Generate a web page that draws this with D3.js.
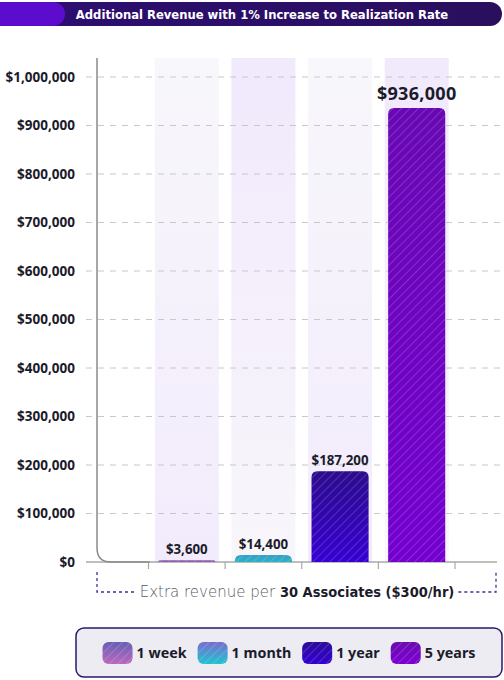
<!DOCTYPE html>
<html>
<head>
<meta charset="utf-8">
<script src="https://cdn.jsdelivr.net/npm/d3@7"></script>
<style>
  html, body { margin: 0; padding: 0; background: #fff; }
  svg { display: block; }
  .dc { font-family: 'DejaVu Sans Condensed', 'DejaVu Sans', sans-serif; font-weight: bold; }
  .ns { font-family: 'Noto Sans', sans-serif; font-weight: bold; }
</style>
</head>
<body>
<svg id="chart"></svg>
<script>
// datos del grafico
const periods = ["1 week", "1 month", "1 year", "5 years"];
const revenue = [3600, 14400, 187200, 936000];
const valueLabels = ["$3,600", "$14,400", "$187,200", "$936,000"];
const yTicks = [0, 100000, 200000, 300000, 400000, 500000, 600000, 700000, 800000, 900000, 1000000];
const titleText = "Additional Revenue with 1% Increase to Realization Rate";
const captionLight = "Extra revenue per ";
const captionBold = "30 Associates ($300/hr)";

const W = 504, H = 680;
const svg = d3.select("#chart").attr("width", W).attr("height", H);
const defs = svg.append("defs");

// colores de barras (arriba, abajo)
const barColors = [
    ["#7d5bb0", "#9a5aa8"],
    ["#3a9cc8", "#26b4c4"],
    ["#2c0c8c", "#3600d2"],
    ["#6808b4", "#7400d0"]
];
const swatchColors = [
    ["#6660b4", "#bc68c0"],
    ["#7a6cd0", "#1ec4d0"],
    ["#2c0c9c", "#3200d0"],
    ["#6a0cb0", "#7c00d4"]
];

function addGradient(id, c0, c1) {
    const g = defs.append("linearGradient").attr("id", id)
        .attr("x1", 0).attr("y1", 0).attr("x2", 0).attr("y2", 1);
    g.append("stop").attr("offset", "0%").attr("stop-color", c0);
    g.append("stop").attr("offset", "100%").attr("stop-color", c1);
}
barColors.forEach((c, i) => addGradient("bar-grad-" + i, c[0], c[1]));
swatchColors.forEach((c, i) => addGradient("sw-grad-" + i, c[0], c[1]));
addGradient("band-a", "#f8f7fb", "#f2ebfc");
addGradient("band-b", "#f1e9fc", "#f8f6fb");

const stripes = defs.append("pattern").attr("id", "stripes")
    .attr("patternUnits", "userSpaceOnUse")
    .attr("width", 6).attr("height", 6)
    .attr("patternTransform", "rotate(45)");
stripes.append("line")
    .attr("x1", 0).attr("y1", 0).attr("x2", 0).attr("y2", 6)
    .attr("stroke", "#ffffff").attr("stroke-opacity", 0.28).attr("stroke-width", 1.2);

// barra del titulo
const tg = defs.append("linearGradient").attr("id", "title-grad");
tg.append("stop").attr("offset", "0%").attr("stop-color", "#2c0e72");
tg.append("stop").attr("offset", "100%").attr("stop-color", "#2a0f5e");
svg.append("rect")
    .attr("x", -14).attr("y", 2).attr("width", 516).attr("height", 24)
    .attr("rx", 12).attr("fill", "url(#title-grad)");
svg.append("rect")
    .attr("x", -14).attr("y", 2).attr("width", 79).attr("height", 24)
    .attr("rx", 12).attr("fill", "#5c0ccc");
svg.append("text")
    .attr("class", "dc")
    .attr("x", 262).attr("y", 14.5).attr("dy", "0.35em")
    .attr("text-anchor", "middle")
    .attr("fill", "#ffffff")
    .style("font-size", "12.9px")
    .text(titleText);

// escalas
const x = d3.scaleBand().domain(periods).range([148.5, 455]).padding(0);
const y = d3.scaleLinear().domain([0, 1000000]).range([562, 77]);
const barW = x.bandwidth() * 0.745;
const bandW = x.bandwidth() * 0.835;

// fondos de columnas
svg.append("g").selectAll("rect")
    .data(periods)
    .join("rect")
    .attr("x", d => x(d) + (x.bandwidth() - bandW) / 2)
    .attr("y", 58)
    .attr("width", bandW)
    .attr("height", y(0) - 58)
    .attr("fill", (d, i) => i % 2 === 0 ? "url(#band-a)" : "url(#band-b)");

// lineas de cuadricula
svg.append("g").selectAll("line")
    .data(yTicks.filter(d => d > 0))
    .join("line")
    .attr("x1", 86).attr("x2", W)
    .attr("y1", d => y(d)).attr("y2", d => y(d))
    .attr("stroke", "#c8c8c8")
    .attr("stroke-width", 1)
    .attr("stroke-dasharray", "6,6");

// etiquetas del eje y
const yAxis = d3.axisLeft(y)
    .tickValues(yTicks)
    .tickFormat(d => "$" + d3.format(",")(d))
    .tickSize(0)
    .tickPadding(0);
const gy = svg.append("g").attr("transform", "translate(75,0)").call(yAxis);
gy.select(".domain").remove();
gy.attr("font-family", null).attr("font-size", null);
gy.selectAll("text")
    .attr("class", "ns")
    .attr("fill", "#1b1b2b")
    .style("font-size", "13.5px");

// eje con esquina redondeada
svg.append("line")
    .attr("x1", 86).attr("x2", 497)
    .attr("y1", y(0)).attr("y2", y(0))
    .attr("stroke", "#a8a8a8").attr("stroke-width", 1.5);
svg.append("path")
    .attr("d", `M97,58 V${y(0) - 14} Q97,${y(0)} 111,${y(0)} H150`)
    .attr("fill", "none")
    .attr("stroke", "#8a8a8a").attr("stroke-width", 1.5);

// marcas del eje x
const tickXs = periods.map(d => x(d)).concat([x.range()[1]]);
svg.append("g").selectAll("line")
    .data(tickXs)
    .join("line")
    .attr("x1", d => d).attr("x2", d => d)
    .attr("y1", y(0)).attr("y2", y(0) + 7)
    .attr("stroke", "#a8a8a8").attr("stroke-width", 1.2);

// barras
function topRounded(x0, y0, w, h, r) {
    r = Math.min(r, h, w / 2);
    return `M${x0},${y0 + h} V${y0 + r} Q${x0},${y0} ${x0 + r},${y0} H${x0 + w - r} Q${x0 + w},${y0} ${x0 + w},${y0 + r} V${y0 + h} Z`;
}
const bars = svg.append("g").selectAll("g")
    .data(periods)
    .join("g");
bars.append("path")
    .attr("d", (d, i) => topRounded(x(d) + (x.bandwidth() - barW) / 2, y(revenue[i]), barW, y(0) - y(revenue[i]), 6))
    .attr("fill", (d, i) => `url(#bar-grad-${i})`);
bars.append("path")
    .attr("d", (d, i) => topRounded(x(d) + (x.bandwidth() - barW) / 2, y(revenue[i]), barW, y(0) - y(revenue[i]), 6))
    .attr("fill", "url(#stripes)");

// etiquetas de valores
bars.append("text")
    .attr("class", "ns")
    .attr("x", d => x(d) + x.bandwidth() / 2)
    .attr("y", (d, i) => y(revenue[i]) - (i === 3 ? 8 : 6))
    .attr("text-anchor", "middle")
    .attr("fill", "#1b1b2b")
    .style("font-size", (d, i) => i === 3 ? "18px" : "13.3px")
    .style("letter-spacing", (d, i) => i === 3 ? "0.3px" : "0px")
    .text((d, i) => valueLabels[i]);

// leyenda inferior del eje x
const cap = svg.append("text")
    .attr("x", 297).attr("y", 591).attr("dy", "0.35em")
    .attr("text-anchor", "middle");
cap.append("tspan")
    .attr("fill", "#5a5a66")
    .style("font-family", "'DejaVu Sans', sans-serif")
    .style("font-weight", "200")
    .style("font-size", "15px")
    .text(captionLight);
cap.append("tspan")
    .attr("class", "dc")
    .attr("fill", "#1b1b2b")
    .style("font-size", "14.5px")
    .text(captionBold);
const cb = cap.node().getBBox();
svg.append("path")
    .attr("d", `M97,572 V592 H${cb.x - 4}`)
    .attr("fill", "none").attr("stroke", "#4a2a9a")
    .attr("stroke-width", 1.3).attr("stroke-dasharray", "3,3");
svg.append("path")
    .attr("d", `M${cb.x + cb.width + 4},592 H496 V572`)
    .attr("fill", "none").attr("stroke", "#4a2a9a")
    .attr("stroke-width", 1.3).attr("stroke-dasharray", "3,3");

// leyenda
svg.append("rect")
    .attr("x", 76).attr("y", 628).attr("width", 426).attr("height", 49)
    .attr("rx", 8)
    .attr("fill", "#ececf2")
    .attr("stroke", "#2e1768").attr("stroke-width", 1.5);

const legend = svg.append("g");
const items = legend.selectAll("g")
    .data(periods)
    .join("g");
items.append("rect")
    .attr("x", 0).attr("y", -11).attr("width", 30).attr("height", 22)
    .attr("rx", 6)
    .attr("fill", (d, i) => `url(#sw-grad-${i})`);
items.append("rect")
    .attr("x", 0).attr("y", -11).attr("width", 30).attr("height", 22)
    .attr("rx", 6)
    .attr("fill", "url(#stripes)");
items.append("text")
    .attr("class", "ns")
    .attr("x", 34).attr("dy", "0.35em")
    .attr("fill", "#1b1b2b")
    .style("font-size", "14.3px")
    .text(d => d);

let cursor = 0;
const gap = 11;
items.each(function () {
    const w = 34 + this.querySelector("text").getComputedTextLength();
    d3.select(this).attr("transform", `translate(${cursor},0)`);
    cursor += w + gap;
});
const totalW = cursor - gap;
legend.attr("transform", `translate(${76 + (426 - totalW) / 2},653)`);
</script>
</body>
</html>
